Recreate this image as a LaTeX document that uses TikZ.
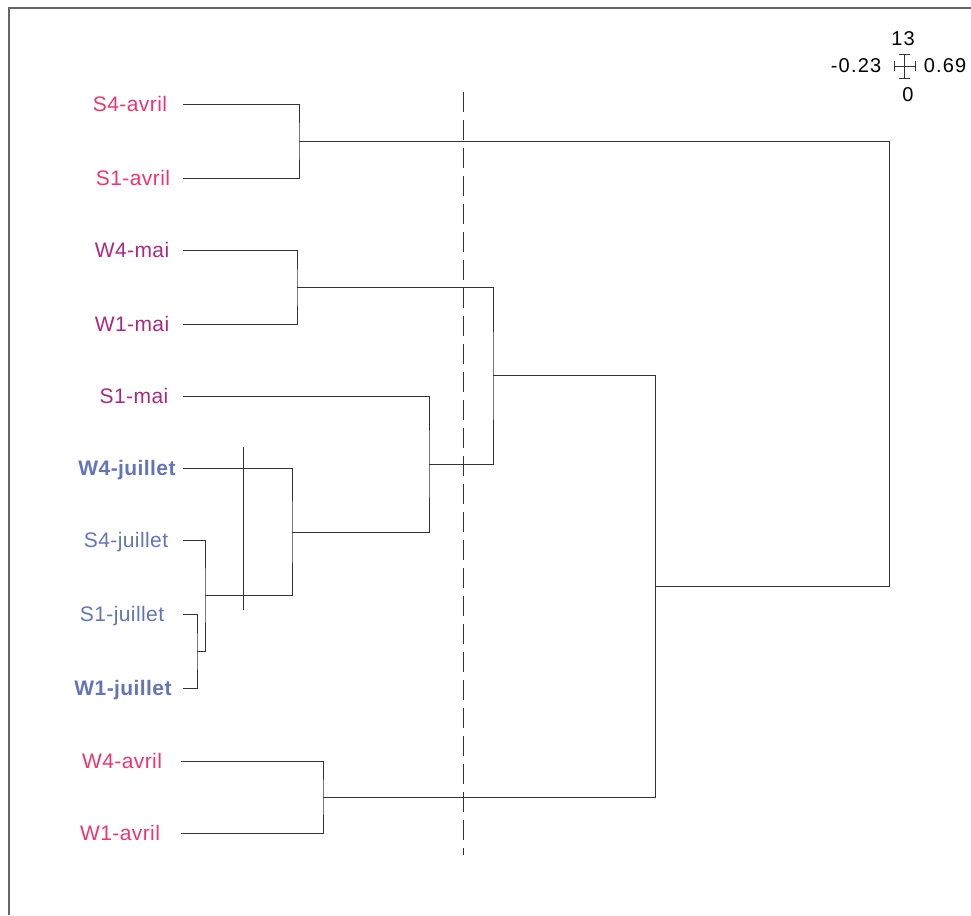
\documentclass[tikz,border=0pt]{standalone}
\usepackage{fontspec}
\setmainfont{Liberation Sans}[LetterSpace=2]
\definecolor{cavr}{HTML}{EC3570}
\definecolor{cmai}{HTML}{A8297F}
\definecolor{cjul}{HTML}{6474B9}
\definecolor{cline}{HTML}{333333}
\definecolor{cframe}{HTML}{666666}
\tikzset{
  lbl/.style={inner sep=0pt, anchor=base, font=\fontsize{21}{25}\selectfont},
  leg/.style={inner sep=0pt, anchor=base, font=\fontsize{20}{24}\selectfont\addfontfeature{LetterSpace=6}},
  tree/.style={draw=cline, line width=0.9pt},
  cut/.style={draw=cline, line width=0.9pt, dash pattern=on 20pt off 8pt},
  frame/.style={draw=cframe, line width=1.2pt}
}
\begin{document}
\begin{tikzpicture}[x=1pt,y=-1pt]
\useasboundingbox (0,0) rectangle (971,915);
% frame
\coordinate (f1) at (9,915);
\coordinate (f2) at (9,8);
\coordinate (f3) at (971,8);
\draw[frame] (f1) -- (f2) -- (f3);

% labels
\node[lbl, text=cavr] (n1) at (130,111.5) {S4-avril};
\node[lbl, text=cavr] (n2) at (133,185.5) {S1-avril};
\node[lbl, text=cmai] (n3) at (132,257.5) {W4-mai};
\node[lbl, text=cmai] (n4) at (132,331.5) {W1-mai};
\node[lbl, text=cmai] (n5) at (134,403.5) {S1-mai};
\node[lbl, text=cjul, font=\fontsize{21}{25}\selectfont\bfseries] (n6) at (127,475.5) {W4-juillet};
\node[lbl, text=cjul] (n7) at (126,547.5) {S4-juillet};
\node[lbl, text=cjul] (n8) at (122,621.5) {S1-juillet};
\node[lbl, text=cjul, font=\fontsize{21}{25}\selectfont\bfseries] (n9) at (123,695.5) {W1-juillet};
\node[lbl, text=cavr] (n10) at (122,768.5) {W4-avril};
\node[lbl, text=cavr] (n11) at (120,840.5) {W1-avril};

% leaf line starts
\coordinate (a1) at (183,104);
\coordinate (a2) at (183,178);
\coordinate (a3) at (183,250);
\coordinate (a4) at (183,324);
\coordinate (a5) at (183,396);
\coordinate (a6) at (183,468);
\coordinate (a7) at (183,540);
\coordinate (a8) at (183,614);
\coordinate (a9) at (183,688);
\coordinate (a10) at (181,761);
\coordinate (a11) at (181,833);

% junctions
\coordinate (j1) at (299,141);
\coordinate (j2) at (297,287);
\coordinate (j3) at (197,651);
\coordinate (j4) at (205,595.5);
\coordinate (j5) at (292,532);
\coordinate (j6) at (429,464);
\coordinate (j7) at (493,375.5);
\coordinate (j8) at (323,797);
\coordinate (j9) at (655,586);
\coordinate (r) at (889,363.5);

% tree
\draw[tree] (a1) -| (j1) |- (a2);
\draw[tree] (a3) -| (j2) |- (a4);
\draw[tree] (a8) -| (j3) |- (a9);
\draw[tree] (a7) -| (j4) |- (j3);
\draw[tree] (a6) -| (j5) |- (j4);
\draw[tree] (a5) -| (j6) |- (j5);
\draw[tree] (j2) -| (j7) |- (j6);
\draw[tree] (a10) -| (j8) |- (a11);
\draw[tree] (j7) -| (j9) |- (j8);
\draw[tree] (j1) -| (r) |- (j9);

% solid cut line in juillet group
\coordinate (c1) at (243,447);
\coordinate (c2) at (243,610);
\draw[tree] (c1) -- (c2);

% dashed cut line
\coordinate (d1) at (463,92);
\coordinate (d2) at (463,855);
\draw[cut] (d1) -- (d2);

% scale legend
\coordinate (s0) at (904.5,66);
\coordinate (sl) at (894,66);
\coordinate (sr) at (915,66);
\coordinate (st) at (904.5,54);
\coordinate (sb) at (904.5,78);
\draw[tree, line width=0.7pt] (sl) -- (sr);
\draw[tree, line width=0.7pt] (st) -- (sb);
\draw[tree, line width=0.7pt] ([yshift=-5pt]sl) -- ([yshift=5pt]sl);
\draw[tree, line width=0.7pt] ([yshift=-5pt]sr) -- ([yshift=5pt]sr);
\draw[tree, line width=0.7pt] ([xshift=-5.5pt]st) -- ([xshift=5.5pt]st);
\draw[tree, line width=0.7pt] ([xshift=-5.5pt]sb) -- ([xshift=5.5pt]sb);
\node[leg] (t13) at (903,45.5) {13};
\node[leg] (tl) at (856,73) {-0.23};
\node[leg] (tr) at (945,73) {0.69};
\node[leg] (t0) at (908,102) {0};
\end{tikzpicture}
\end{document}
